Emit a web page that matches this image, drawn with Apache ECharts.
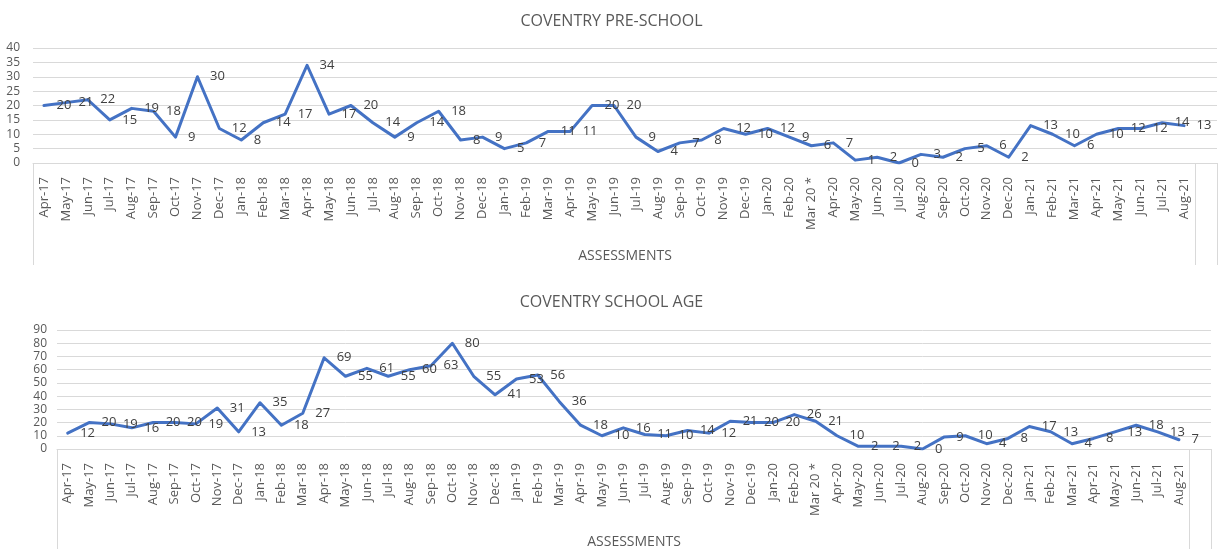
<!DOCTYPE html>
<html>
<head>
	<meta charset="utf-8">
	<title>Coventry assessments</title>
	<script type="text/javascript" src="https://cdn.jsdelivr.net/npm/echarts@6/dist/echarts.min.js"></script>
	<style>
		body { margin: 0; background: #fff; }
	</style>
</head>

<body>
	<div style="height: 550px; width: 1223px" id="main"></div>

	<script type="text/javascript">
		// months (last one is the blank slot Excel leaves at the end)
		var months = ['Apr-17', 'May-17', 'Jun-17', 'Jul-17', 'Aug-17', 'Sep-17', 'Oct-17', 'Nov-17', 'Dec-17',
			'Jan-18', 'Feb-18', 'Mar-18', 'Apr-18', 'May-18', 'Jun-18', 'Jul-18', 'Aug-18', 'Sep-18', 'Oct-18', 'Nov-18', 'Dec-18',
			'Jan-19', 'Feb-19', 'Mar-19', 'Apr-19', 'May-19', 'Jun-19', 'Jul-19', 'Aug-19', 'Sep-19', 'Oct-19', 'Nov-19', 'Dec-19',
			'Jan-20', 'Feb-20', 'Mar 20 *', 'Apr-20', 'May-20', 'Jun-20', 'Jul-20', 'Aug-20', 'Sep-20', 'Oct-20', 'Nov-20', 'Dec-20',
			'Jan-21', 'Feb-21', 'Mar-21', 'Apr-21', 'May-21', 'Jun-21', 'Jul-21', 'Aug-21', '']

		var preSchool = [20, 21, 22, 15, 19, 18, 9, 30, 12, 8, 14, 17, 34, 17, 20, 14, 9, 14, 18, 8,
			9, 5, 7, 11, 11, 20, 20, 9, 4, 7, 8, 12, 10, 12, 9, 6, 7, 1, 2, 0,
			3, 2, 5, 6, 2, 13, 10, 6, 10, 12, 12, 14, 13]

		var schoolAge = [12, 20, 19, 16, 20, 20, 19, 31, 13, 35, 18, 27, 69, 55, 61, 55, 60, 63, 80, 55,
			41, 53, 56, 36, 18, 10, 16, 11, 10, 14, 12, 21, 20, 20, 26, 21, 10, 2, 2, 2,
			0, 9, 10, 4, 8, 17, 13, 4, 8, 13, 18, 13, 7]

		var FONT = 'Open Sans'
		var GRID_GRAY = '#d9d9d9'

		function x_axis(idx, tickLen) {
			return {
				type: 'category',
				gridIndex: idx,
				data: months,
				boundaryGap: true,
				name: 'ASSESSMENTS',
				nameLocation: 'middle',
				nameGap: 86,
				nameTextStyle: { color: '#595959', fontSize: 14, fontFamily: FONT },
				axisLine: { lineStyle: { color: GRID_GRAY, width: 1 } },
				axisTick: {
					show: true,
					length: tickLen,
					// only the outer separators, like the excel box
					interval: function (i) { return i === 0 || i === months.length - 1 },
					lineStyle: { color: GRID_GRAY }
				},
				axisLabel: {
					interval: 0,
					rotate: 90,
					margin: 14,
					color: '#595959',
					fontSize: 13,
					fontFamily: FONT
				}
			}
		}

		function y_axis(idx, max, step, margin) {
			return {
				type: 'value',
				gridIndex: idx,
				min: 0,
				max: max,
				interval: step,
				axisLine: { show: false },
				axisTick: { show: false },
				splitLine: { lineStyle: { color: GRID_GRAY } },
				axisLabel: { color: '#595959', fontSize: 12, fontFamily: FONT, margin: margin }
			}
		}

		function line_series(name, idx, data) {
			return {
				name: name,
				type: 'line',
				xAxisIndex: idx,
				yAxisIndex: idx,
				data: data,
				symbol: 'circle',
				symbolSize: 1,
				itemStyle: { color: '#4472C4' },
				lineStyle: { color: '#4472C4', width: 3, cap: 'round', join: 'round' },
				label: {
					show: true,
					position: 'right',
					distance: 12,
					color: '#404040',
					fontSize: 13,
					fontFamily: FONT
				}
			}
		}

		var chart = echarts.init(document.getElementById('main'))
		var option = {
			animation: false,
			backgroundColor: '#fff',
			title: [
				{ text: 'COVENTRY PRE-SCHOOL', left: 'center', top: 8,
					textStyle: { color: '#595959', fontSize: 16, fontWeight: 'normal', fontFamily: FONT } },
				{ text: 'COVENTRY SCHOOL AGE', left: 'center', top: 289,
					textStyle: { color: '#595959', fontSize: 16, fontWeight: 'normal', fontFamily: FONT } }
			],
			grid: [
				{ left: 33, right: 6, top: 48, height: 115 },
				{ left: 57, right: 12, top: 330, height: 120 }
			],
			xAxis: [x_axis(0, 102), x_axis(1, 100)],
			yAxis: [y_axis(0, 40, 5, 13), y_axis(1, 90, 10, 10)],
			series: [
				line_series('Pre-school', 0, preSchool),
				line_series('School age', 1, schoolAge)
			]
		}
		chart.setOption(option)
	</script>
</body>
</html>
